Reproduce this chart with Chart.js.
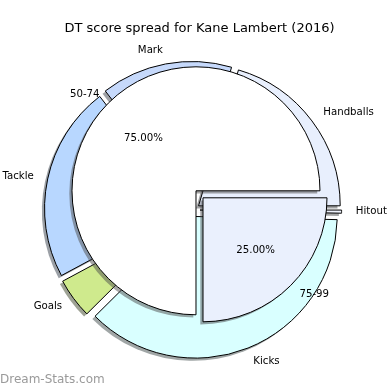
<!DOCTYPE html>
<html>
<head>
<meta charset="utf-8">
<script src="https://cdn.jsdelivr.net/npm/chart.js@4.4.1/dist/chart.umd.min.js"></script>
<style>
  html, body { margin: 0; padding: 0; background: #ffffff; }
  #wrap { position: relative; width: 390px; height: 390px; overflow: hidden; }
  #wrap canvas { position: absolute; left: 0; top: 0; }
</style>
</head>
<body>
<div id="wrap">
  <canvas id="outerPie" width="390" height="390"></canvas>
  <canvas id="innerPie" width="390" height="390"></canvas>
</div>
<script>
// ---------- data ----------
const chartTitle = 'DT score spread for Kane Lambert (2016)';
const statCategories = ['Handballs', 'Mark', 'Tackle', 'Goals', 'Kicks', 'Hitout'];
const statPoints = [348, 255, 381, 78, 633, 6];
const rangeCategories = ['50-74', '75-99'];
const rangeShares = [75, 25];
const watermarkText = 'Dream-Stats.com';

// ---------- styles ----------
const statColors = ['#e8effd', '#c6d9fb', '#b8d7ff', '#cfea8d', '#d9ffff', '#eef2fc'];
const rangeColors = ['#ffffff', '#eaf0fd'];
const FONT = '"DejaVu Sans", "Liberation Sans", sans-serif';

// matplotlib draws wedges counter-clockwise from 3 o'clock; Chart.js draws clockwise,
// so the order is reversed and the rotation starts at 3 o'clock.
const rev = a => a.slice().reverse();

function shadowOf(hex) {
  const n = parseInt(hex.slice(1), 16);
  const r = (n >> 16) & 255, g = (n >> 8) & 255, b = n & 255;
  return 'rgba(' + Math.round(r * 0.3) + ',' + Math.round(g * 0.3) + ',' + Math.round(b * 0.3) + ',0.5)';
}

function arcGeom(el) {
  return el.getProps(['x', 'y', 'startAngle', 'endAngle', 'innerRadius', 'outerRadius'], true);
}

// exploded wedges with drop shadows, like matplotlib's pie(explode=..., shadow=True)
const mplPie = {
  id: 'mplPie',
  beforeDatasetDraw(chart, args, opts) {
    const ctx = chart.ctx;
    const ds = chart.data.datasets[args.index];
    const items = args.meta.data.map((el, i) => {
      const p = arcGeom(el);
      const mid = (p.startAngle + p.endAngle) / 2;
      return { el, p, dx: Math.cos(mid) * opts.explode, dy: Math.sin(mid) * opts.explode, color: ds.backgroundColor[i] };
    });
    items.forEach(it => {
      const p = it.p;
      ctx.save();
      ctx.translate(it.dx + opts.shadowX, it.dy + opts.shadowY);
      ctx.beginPath();
      ctx.moveTo(p.x, p.y);
      ctx.arc(p.x, p.y, p.outerRadius, p.startAngle, p.endAngle);
      ctx.closePath();
      ctx.fillStyle = shadowOf(it.color);
      ctx.fill();
      ctx.restore();
    });
    items.forEach(it => {
      ctx.save();
      ctx.translate(it.dx, it.dy);
      it.el.draw(ctx);
      ctx.restore();
    });
    return false;
  },
  afterDatasetsDraw(chart, args, opts) {
    const ctx = chart.ctx;
    const meta = chart.getDatasetMeta(0);
    const ds = chart.data.datasets[0];
    const total = ds.data.reduce((a, b) => a + b, 0);
    ctx.save();
    ctx.fillStyle = '#000';
    ctx.textBaseline = 'middle';
    ctx.font = opts.fontSize + 'px ' + FONT;
    meta.data.forEach((el, i) => {
      const p = arcGeom(el);
      const mid = (p.startAngle + p.endAngle) / 2;
      const c = Math.cos(mid), s = Math.sin(mid);
      const cx = p.x + c * opts.explode, cy = p.y + s * opts.explode;
      const R = p.outerRadius;
      ctx.textAlign = c > 0 ? 'left' : 'right';
      ctx.fillText(chart.data.labels[i], cx + c * R * opts.labelDistance, cy + s * R * opts.labelDistance);
      if (opts.pctDistance) {
        ctx.textAlign = 'center';
        const txt = (ds.data[i] / total * 100).toFixed(2) + '%';
        ctx.fillText(txt, cx + c * R * opts.pctDistance, cy + s * R * opts.pctDistance);
      }
    });
    ctx.restore();
  },
  afterDraw(chart, args, opts) {
    if (!opts.watermark) return;
    const ctx = chart.ctx;
    ctx.save();
    ctx.font = '12px ' + FONT;
    ctx.fillStyle = '#9a9a9a';
    ctx.textAlign = 'left';
    ctx.textBaseline = 'alphabetic';
    ctx.fillText(opts.watermark, 0, 383);
    ctx.restore();
  }
};

// ---------- outer pie (stat categories) ----------
new Chart(document.getElementById('outerPie'), {
  type: 'pie',
  data: {
    labels: rev(statCategories),
    datasets: [{
      data: rev(statPoints),
      backgroundColor: rev(statColors),
      borderColor: '#000000',
      borderWidth: 1,
      radius: 141.6,
      rotation: 90
    }]
  },
  options: {
    responsive: false,
    animation: false,
    events: [],
    layout: { padding: { left: 0, right: 4, top: 30, bottom: 0 } },
    plugins: {
      legend: { display: false },
      tooltip: { enabled: false },
      title: { display: false },
      mplPie: { explode: 7, shadowX: -2.7, shadowY: 2.7, labelDistance: 1.1, pctDistance: 0, fontSize: 10.2 }
    }
  },
  plugins: [mplPie]
});

// ---------- inner pie (score ranges) ----------
new Chart(document.getElementById('innerPie'), {
  type: 'pie',
  data: {
    labels: rev(rangeCategories),
    datasets: [{
      data: rev(rangeShares),
      backgroundColor: rev(rangeColors),
      borderColor: '#000000',
      borderWidth: 1,
      radius: 124,
      rotation: 90
    }]
  },
  options: {
    responsive: false,
    animation: false,
    events: [],
    layout: { padding: { left: 9, right: 0, top: 0, bottom: 38 } },
    plugins: {
      legend: { display: false },
      tooltip: { enabled: false },
      title: {
        display: true,
        text: chartTitle,
        color: '#000000',
        font: { family: FONT, size: 13, weight: 'normal' },
        padding: { top: 21, bottom: 0 }
      },
      mplPie: { explode: 4.95, shadowX: -2.7, shadowY: 2.7, labelDistance: 1.1, pctDistance: 0.6, fontSize: 10.2, watermark: watermarkText }
    }
  },
  plugins: [mplPie]
});
</script>
</body>
</html>
